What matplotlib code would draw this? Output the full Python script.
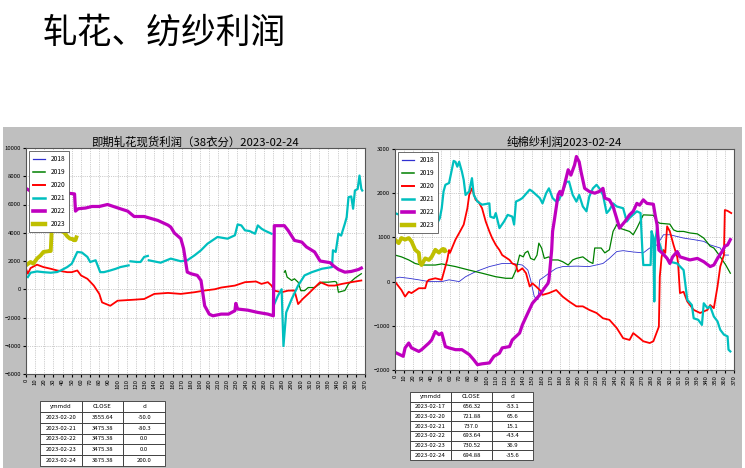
import numpy as np
import matplotlib
matplotlib.use('Agg')
import matplotlib.pyplot as plt
from matplotlib.patches import Rectangle

plt.rcParams['font.family'] = ['Noto Sans CJK SC', 'DejaVu Sans']
nan = np.nan

years = ['2018', '2019', '2020', '2021', '2022', '2023']
colors = ['#3030d0', 'g', 'r', 'c', 'm', 'y']
widths = [0.6, 0.9, 1.3, 1.6, 2.3, 2.8]
legend_widths = [0.9, 1.1, 1.4, 1.8, 2.6, 3.2]

# ---- gin profit (left) : (day of year, profit)
gin_2018 = []
gin_2019 = [(282, 1210), (283, 1330), (285, 860), (290, 620), (293, 740), (297, 500), (300, -100),
            (304, -100), (308, 120), (315, 120), (323, 500), (330, 500), (337, 550), (339, 500),
            (341, -210), (348, -90), (352, 380), (359, 790), (366, 1100)]
gin_2020 = [(0, 1450), (2, 1100), (5, 1500), (12, 1740), (19, 1570), (27, 1450), (34, 1330), (45, 1210),
            (50, 1210), (56, 1330), (60, 980), (67, 740), (74, 260), (80, -330), (83, -930), (92, -1170),
            (100, -810), (118, -740), (129, -690), (140, -330), (155, -260), (169, -330), (184, -210),
            (195, -90), (206, 0), (213, 120), (228, 260), (239, 500), (251, 550), (257, 380), (264, 500),
            (268, 260), (271, -100), (279, -210), (286, -100), (293, -90), (297, -1050), (302, -690),
            (308, -330), (315, 120), (321, 500), (330, 260), (337, 260), (345, 380), (355, 500), (366, 620)]
gin_2021 = [(2, 860), (5, 1170), (12, 1260), (19, 1210), (27, 1170), (34, 1220), (38, 1330), (45, 1570),
            (50, 1810), (56, 2640), (61, 2600), (67, 2290), (70, 1930), (76, 2050), (81, 1210), (85, 1210),
            (92, 1330), (98, 1450), (103, 1570), (112, 1690), (113, nan), (114, 1980), (121, 1930),
            (125, 1930), (129, 2290), (133, 2360), (133.5, nan), (134, 2050), (147, 1880), (158, 2170),
            (169, 1980), (176, 2050), (184, 2400), (191, 2760), (198, 3220), (209, 3700), (220, 3580),
            (228, 3820), (231, 4590), (235, 4520), (239, 4170), (244, 4120), (250, 3930), (253, 4520),
            (257, 4290), (260, 4170), (268, 3930), (269, nan), (271, -1050), (275, -450), (279, 0),
            (281, -4020), (284, -1640), (290, -690), (297, 260), (304, 980), (312, 1210), (323, 1450),
            (334, 1570), (335, 2760), (338, 2640), (341, 3930), (344, 3800), (348, 4640), (350, 5100),
            (352, 6520), (355, 6570), (357, 5700), (359, 6990), (362, 7100), (364, 8050), (366, 7100),
            (367, 6990)]
gin_2022 = [(1, 7100), (5, 6950), (10, 6900), (16, 6750), (25, 6750), (35, 6800), (40, 6870), (42, 7040),
            (46, 6800), (53, 6750), (54, 5530), (57, 5700), (65, 5750), (72, 5860), (80, 5860), (89, 6000),
            (100, 5760), (111, 5530), (118, 5150), (129, 5150), (144, 4870), (155, 4540), (158, 4400),
            (162, 3980), (169, 3580), (172, 2880), (176, 1215), (180, 1100), (187, 980), (191, 620),
            (195, -1170), (200, -1760), (204, -1880), (213, -1760), (221, -1760), (228, -1520),
            (229, -1000), (231, -1400), (242, -1480), (253, -1640), (264, -1760), (270, -1880),
            (271, 4500), (282, 4500), (286, 4170), (293, 3460), (301, 3340), (306, 3000), (315, 2640),
            (321, 2000), (332, 1880), (335, 1690), (341, 1400), (348, 1210), (355, 1260), (363, 1400),
            (366, 1500)]
gin_2023 = [(0, 1690), (5, 1930), (8, 1810), (12, 2170), (16, 2400), (19, 2640), (25, 2700), (27, 2710),
            (28, 4170), (30, 4290), (35, 4170), (39, 4120), (42, 4000), (45, 3750), (48, 3580),
            (51, 3556), (52, 3475), (53, 3475), (54, 3475), (55, 3675)]

# ---- yarn profit (right)
yarn_2018 = [(0, 75), (5, 100), (15, 75), (26, 40), (37, 0), (51, 0), (59, 40), (70, 0), (77, 110), (88, 225),
             (103, 340), (117, 410), (128, 410), (139, 375), (145, 260), (148, 40), (152, -340), (156, -410),
             (158, 40), (163, 110), (168, 190), (176, 300), (183, 340), (198, 350), (212, 340), (227, 410),
             (234, 525), (242, 680), (249, 700), (260, 670), (271, 650), (278, 760), (286, 830), (293, 1060),
             (300, 1060), (308, 1020), (315, 985), (326, 950), (337, 910), (344, 830), (355, 760), (359, 600),
             (364, 600)]
yarn_2019 = [(0, 600), (7, 560), (15, 490), (22, 410), (29, 375), (44, 375), (51, 400), (66, 340), (81, 260),
             (95, 190), (110, 110), (121, 75), (128, 75), (132, 260), (136, 600), (140, 560), (142, 650),
             (145, 690), (148, 525), (152, 490), (155, 600), (157, 870), (160, 760), (163, 525), (168, 560),
             (171, 490), (178, 490), (183, 450), (189, 375), (194, 490), (198, 525), (205, 560), (212, 450),
             (216, 410), (218, 760), (225, 760), (229, 650), (234, 720), (238, 1135), (242, 1290),
             (245, 1210), (256, 1135), (260, 1060), (264, 1210), (271, 1510), (282, 1500), (286, 1360),
             (289, 1320), (300, 1300), (304, 1170), (308, 1135), (315, 1135), (322, 1100), (330, 1080),
             (337, 985), (344, 800), (348, 760), (352, 650), (355, 560), (361, 375), (366, 190)]
yarn_2020 = [(0, 0), (4, -110), (7, -190), (11, -340), (15, -230), (18, -260), (26, -150), (33, -150), (35, 0),
             (37, 40), (44, 75), (51, 40), (53, 190), (57, 490), (59, 714), (60, 650), (66, 950), (71, 1135),
             (75, 1290), (79, 1660), (81, 1960), (84, 2110), (88, 1850), (91, 1810), (95, 1660), (99, 1360),
             (103, 1135), (106, 985), (110, 830), (114, 714), (117, 600), (125, 490), (128, 410), (132, 375),
             (134, 225), (139, 300), (143, 190), (147, -110), (150, -40), (154, -110), (158, -190),
             (161, -300), (168, -260), (176, -190), (183, -340), (190, -450), (198, -560), (205, -560),
             (212, -640), (220, -710), (227, -830), (234, -865), (242, -1050), (249, -1280), (256, -1320),
             (260, -1165), (267, -1280), (271, -1350), (278, -1390), (282, -1350), (284, -1240),
             (288, -1020), (289, 110), (291, 560), (293, 714), (295, 650), (297, 1250), (300, 1135),
             (304, 830), (308, 560), (309, 410), (311, -260), (315, -230), (319, -450), (326, -640),
             (333, -710), (341, -640), (344, -530), (348, -600), (352, -110), (355, 340), (359, 600),
             (360, 1620), (363, 1600), (367, 1550)]
yarn_2021 = [(0, 1550), (5, 1510), (15, 1470), (26, 1400), (31, 1440), (37, 1210), (40, 1170), (46, 1320),
             (49, 1440), (51, 1660), (53, 2040), (55, 2190), (59, 2230), (62, 2530), (64, 2730), (66, 2710),
             (68, 2600), (70, 2710), (73, 2490), (75, 2300), (77, 1960), (81, 2040), (84, 2340), (86, 1960),
             (90, 1810), (95, 1740), (103, 1770), (104, 1470), (108, 1440), (110, 1550), (114, 1210),
             (119, 1360), (123, 1510), (128, 1470), (130, 1290), (132, 1810), (136, 1850), (139, 1890),
             (147, 2080), (150, 2040), (158, 1890), (161, 1770), (165, 2000), (168, 2110), (172, 1890),
             (176, 1810), (179, 1850), (183, 2040), (187, 2260), (190, 2260), (194, 1960), (198, 1810),
             (201, 1960), (205, 1700), (209, 1590), (212, 1920), (216, 2110), (220, 2190), (223, 2110),
             (227, 1960), (231, 1550), (234, 1620), (238, 1770), (242, 1700), (249, 1660), (253, 1360),
             (256, 1440), (264, 1590), (268, 1550), (270, 700), (271, 375), (279, 375), (280, 1140),
             (282, 1000), (283, -450), (284, 900), (286, 1200), (288, 900), (292, 650), (296, 550),
             (300, 450), (308, 410), (315, 260), (319, -410), (324, -530), (326, -830), (331, -865),
             (335, -980), (337, -490), (341, -600), (344, -560), (348, -790), (352, -900), (355, -1090),
             (359, -1200), (363, -1240), (364, -1540), (366, -1580)]
yarn_2022 = [(2, -1620), (5, -1650), (9, -1690), (11, -1500), (15, -1390), (18, -1500), (26, -1580),
             (29, -1540), (37, -1390), (40, -1320), (44, -1130), (48, -1200), (51, -1165), (55, -1470),
             (59, -1500), (66, -1540), (73, -1540), (81, -1650), (86, -1770), (90, -1880), (95, -1860),
             (103, -1840), (108, -1690), (114, -1620), (117, -1500), (125, -1470), (128, -1320),
             (136, -1165), (139, -980), (145, -710), (150, -490), (158, -300), (163, -150), (167, -40),
             (168, 40), (170, 490), (171, 714), (172, 1135), (174, 1400), (178, 1960), (180, 2040),
             (182, 1960), (185, 2190), (189, 2530), (192, 2410), (196, 2640), (198, 2830), (201, 2710),
             (203, 2490), (207, 2110), (212, 2040), (218, 2000), (223, 2040), (227, 2110), (229, 1890),
             (234, 1850), (238, 1700), (244, 1290), (245, 1210), (251, 1360), (256, 1510), (260, 1590),
             (264, 1770), (267, 1730), (271, 1850), (275, 1770), (282, 1750), (284, 1500), (286, 1290),
             (288, 714), (292, 640), (297, 525), (300, 410), (303, 560), (308, 680), (311, 560), (322, 490),
             (330, 525), (337, 450), (344, 340), (348, 375), (352, 525), (357, 680), (360, 800), (363, 830),
             (366, 950)]
yarn_2023 = [(0, 950), (4, 870), (7, 985), (11, 950), (15, 985), (18, 910), (22, 720), (26, 650), (27, 450),
             (29, 375), (33, 525), (37, 490), (40, 560), (44, 720), (48, 656), (51, 722), (52, 737),
             (53, 694), (54, 731), (55, 695)]

gin_table = [['2023-02-20', '3555.64', '-50.0'],
             ['2023-02-21', '3475.38', '-80.3'],
             ['2023-02-22', '3475.38', '0.0'],
             ['2023-02-23', '3475.38', '0.0'],
             ['2023-02-24', '3675.38', '200.0']]
yarn_table = [['2023-02-17', '656.32', '-53.1'],
              ['2023-02-20', '721.88', '65.6'],
              ['2023-02-21', '737.0', '15.1'],
              ['2023-02-22', '693.64', '-43.4'],
              ['2023-02-23', '730.52', '36.9'],
              ['2023-02-24', '694.88', '-35.6']]
table_cols = ['ymmdd', 'CLOSE', 'd']

W, H = 745, 468
fig = plt.figure(figsize=(W / 100, H / 100), dpi=100)
fig.patch.set_facecolor('white')
fig.patches.append(Rectangle((3 / W, 0), 739 / W, 341 / H, transform=fig.transFigure,
                             facecolor='#bfbfbf', edgecolor='none', zorder=-10))
fig.text(43 / W, 1 - 33 / H, '轧花、纺纱利润', fontsize=25, va='center', ha='left', color='black')


def px_axes(x0, y0, x1, y1):
    return fig.add_axes([x0 / W, 1 - y1 / H, (x1 - x0) / W, (y1 - y0) / H])


def draw(ax, series, title, yticks):
    for data, yr, c, lw in zip(series, years, colors, widths):
        if len(data):
            d = np.array(data, dtype=float)
            ax.plot(d[:, 0], d[:, 1], color=c, lw=lw)
    ax.set_xlim(0, 370)
    ax.set_ylim(yticks[0], yticks[-1])
    ax.set_xticks(np.arange(0, 371, 10))
    ax.set_yticks(yticks)
    ax.tick_params(axis='x', labelsize=4.3, rotation=90, length=2, pad=1.5)
    ax.tick_params(axis='y', labelsize=4.3, length=2, pad=1.5)
    ax.grid(True, color='#a0a0a0', linestyle=':', linewidth=0.5)
    for s in ax.spines.values():
        s.set_color('#555555')
        s.set_linewidth(0.8)
    ax.set_title(title, fontsize=8.2, pad=2)
    handles = [plt.Line2D([], [], color=c, lw=lw) for c, lw in zip(colors, legend_widths)]
    leg = ax.legend(handles, years, loc='upper left', fontsize=4.8, handlelength=1.8,
                    labelspacing=0.75, borderpad=0.6, fancybox=False, framealpha=1)
    leg.get_frame().set_edgecolor('#555555')
    leg.get_frame().set_linewidth(0.6)


ax1 = px_axes(26, 148, 365, 374)
draw(ax1, [gin_2018, gin_2019, gin_2020, gin_2021, gin_2022, gin_2023],
     '即期轧花现货利润（38衣分）2023-02-24', np.arange(-6000, 10001, 2000))

ax2 = px_axes(395, 149, 734, 370)
draw(ax2, [yarn_2018, yarn_2019, yarn_2020, yarn_2021, yarn_2022, yarn_2023],
     '纯棉纱利润2023-02-24', np.arange(-2000, 3001, 1000))


def draw_table(x0, y0, x1, y1, rows):
    tax = px_axes(x0, y0, x1, y1)
    tax.axis('off')
    t = tax.table(cellText=rows, colLabels=table_cols, cellLoc='center', bbox=[0, 0, 1, 1])
    t.auto_set_font_size(False)
    t.set_fontsize(4.3)
    for cell in t.get_celld().values():
        cell.set_linewidth(0.6)
        cell.set_edgecolor('#333333')
        cell.set_facecolor('white')


draw_table(40, 401, 165, 466, gin_table)
draw_table(410, 392, 533, 460, yarn_table)

fig.savefig('out.png', dpi=100)
